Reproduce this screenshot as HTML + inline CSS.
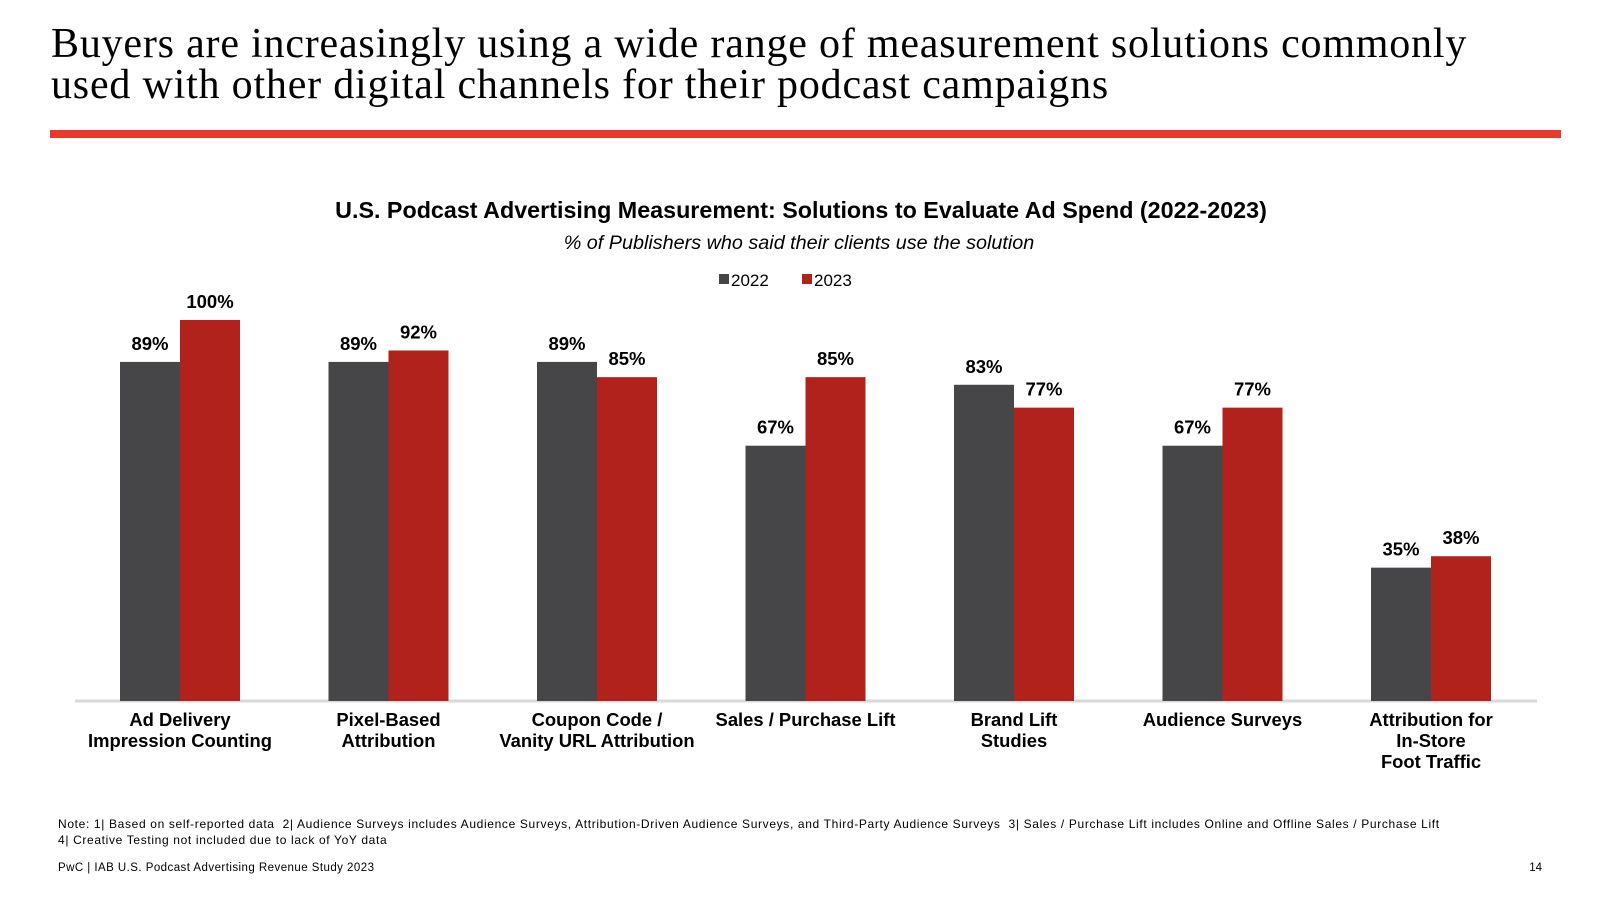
<!DOCTYPE html>
<html><head><meta charset="utf-8">
<style>
html,body{margin:0;padding:0;background:#fff;}
body{width:1600px;height:900px;position:relative;overflow:hidden;font-family:"Liberation Sans",Arial,sans-serif;}
#title{position:absolute;left:51px;top:24px;font-family:"Liberation Serif",serif;font-size:42px;line-height:41px;color:#000;margin:0;font-weight:normal;letter-spacing:0.8px;white-space:nowrap;}
#rule{position:absolute;left:50px;top:130px;width:1511px;height:8px;background:#e8392b;}
svg{position:absolute;left:0;top:0;}
svg text{white-space:pre;}
</style></head><body>
<h1 id="title">Buyers are increasingly using a wide range of measurement solutions commonly<br>used with other digital channels for their podcast campaigns</h1>
<div id="rule"></div>
<svg id="chart" width="1600" height="900">
<text x="801" y="218" text-anchor="middle" font-size="23.3" font-weight="bold" fill="#000">U.S. Podcast Advertising Measurement: Solutions to Evaluate Ad Spend (2022-2023)</text>
<text x="799" y="249" text-anchor="middle" font-size="19.8" font-style="italic" fill="#000">% of Publishers who said their clients use the solution</text>
<g>
<rect x="719" y="274" width="10" height="10" fill="#464547"/>
<text x="731" y="286" font-size="17" fill="#000">2022</text>
<rect x="802" y="274" width="10" height="10" fill="#b0221b"/>
<text x="814" y="286" font-size="17" fill="#000">2023</text>
</g>
<line x1="75" y1="701" x2="1537" y2="701" stroke="#d9d9d9" stroke-width="3"/>
<g id="bars"></g>
<text x="58" y="828" font-size="12" letter-spacing="0.65" fill="#000" xml:space="preserve">Note: 1| Based on self-reported data  2| Audience Surveys includes Audience Surveys, Attribution-Driven Audience Surveys, and Third-Party Audience Surveys  3| Sales / Purchase Lift includes Online and Offline Sales / Purchase Lift</text>
<text x="58" y="844" font-size="12" letter-spacing="0.65" fill="#000">4| Creative Testing not included due to lack of YoY data</text>
<text x="58" y="871" font-size="11.5" letter-spacing="0.45" fill="#000">PwC | IAB U.S. Podcast Advertising Revenue Study 2023</text>
<text x="1542" y="871" text-anchor="end" font-size="11.5" fill="#000">14</text>
</svg>
<script>
const categories = [["Ad Delivery","Impression Counting"],["Pixel-Based","Attribution"],["Coupon Code /","Vanity URL Attribution"],["Sales / Purchase Lift"],["Brand Lift","Studies"],["Audience Surveys"],["Attribution for","In-Store","Foot Traffic"]];
const values2022 = [89,89,89,67,83,67,35];
const values2023 = [100,92,85,85,77,77,38];

const NS="http://www.w3.org/2000/svg";
const baseY=701, fullH=381, x0=120, pitch=208.5, bw=60;
function yScale(v){return baseY - v/100*fullH;}
function xGroup(i){return x0 + i*pitch;}
const g=document.getElementById('bars');
function mk(tag,attrs){const e=document.createElementNS(NS,tag);for(const k in attrs)e.setAttribute(k,attrs[k]);g.appendChild(e);return e;}
categories.forEach((cat,i)=>{
  const gx=xGroup(i);
  [[values2022[i],'#464547','2022',0],[values2023[i],'#b0221b','2023',bw]].forEach(([v,col,yr,off])=>{
    const r=mk('rect',{x:gx+off,y:yScale(v),width:bw,height:baseY-yScale(v),fill:col});
    
    
    const t=mk('text',{x:gx+off+bw/2,y:yScale(v)-12,'text-anchor':'middle','font-size':'18.5','font-weight':'bold',fill:'#000'});
    t.textContent=v+'%';
    
    
  });
  cat.forEach((line,j)=>{
    const t=mk('text',{x:gx+bw,y:726+j*21,'text-anchor':'middle','font-size':'18.4','font-weight':'bold',fill:'#000'});
    t.textContent=line;
    
    
  });
});
</script>
</body></html>
